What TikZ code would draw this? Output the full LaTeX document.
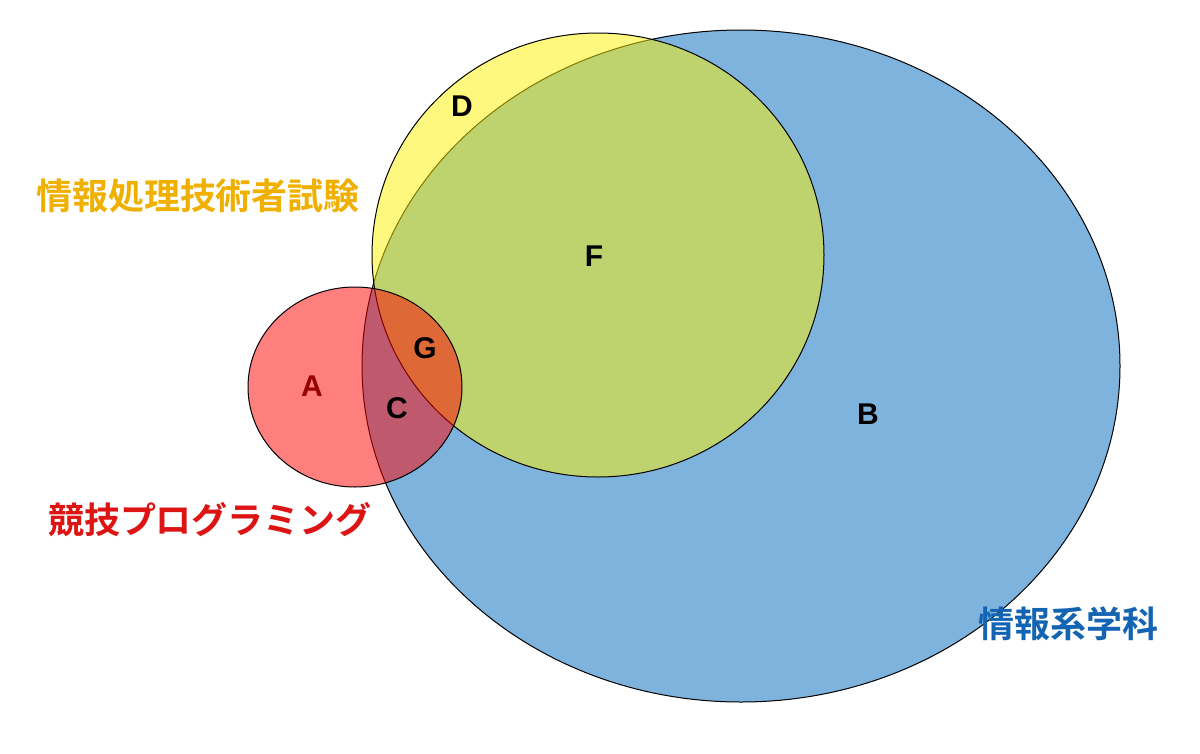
\documentclass[tikz,border=0pt]{standalone}
\usepackage{fontspec}
\setmainfont{Liberation Sans}
\newfontfamily\cjk{Noto Sans CJK JP}[BoldFont={Noto Sans CJK JP Bold}]
\begin{document}
\begin{tikzpicture}[x=1pt,y=-1pt,
  setshape/.style={draw=black,line width=1pt},
  letter/.style={font=\fontsize{30}{30}\selectfont\bfseries},
  setname/.style={font=\cjk\fontsize{36}{36}\selectfont\bfseries}]
\useasboundingbox (0,0) rectangle (1200,753);
\fill[white] (0,0) rectangle (1200,753);
\definecolor{bblue}{HTML}{7EB3DE}
\filldraw[setshape,fill=bblue] (741,366) ellipse [x radius=379,y radius=336];
\filldraw[setshape,fill=yellow,fill opacity=0.5] (598,255) ellipse [x radius=226,y radius=222];
\filldraw[setshape,fill=red,fill opacity=0.5] (355,387) ellipse [x radius=107,y radius=100];
\node[letter,text={rgb,255:red,150;green,0;blue,0}] (A) at (312,386) {A};
\node[letter] (C) at (397,408) {C};
\node[letter] (G) at (425,348) {G};
\node[letter] (F) at (594,256) {F};
\node[letter] (D) at (462,106) {D};
\node[letter] (B) at (868,414) {B};
\node[setname,text={rgb,255:red,240;green,176;blue,0}] (t1) at (198,196) {情報処理技術者試験};
\node[setname,text={rgb,255:red,220;green,20;blue,20}] (t2) at (210,520) {競技プログラミング};
\node[setname,text={rgb,255:red,20;green,100;blue,180}] (t3) at (1068,624) {情報系学科};
\end{tikzpicture}
\end{document}
